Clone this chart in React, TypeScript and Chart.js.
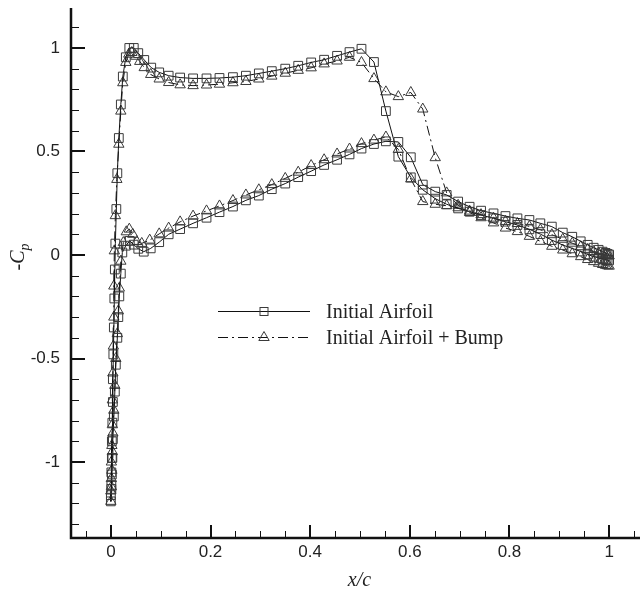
import React, { useEffect, useRef } from "react";
import { Chart, registerables } from "chart.js";

Chart.register(...registerables);

// ---------- data ----------
// chord stations shared by both surfaces from x/c = 0.097 to the trailing edge
const xMid = [
  0.097, 0.116, 0.139, 0.165, 0.192, 0.218, 0.245, 0.271, 0.297, 0.323,
  0.35, 0.376, 0.402, 0.428, 0.454, 0.479, 0.503, 0.528, 0.552, 0.577,
  0.602, 0.626, 0.651, 0.674, 0.697, 0.72, 0.743, 0.768, 0.792, 0.816,
  0.84, 0.862, 0.885, 0.907, 0.926, 0.943, 0.957, 0.969, 0.979, 0.987,
  0.993, 0.997, 1.0,
];

// Initial Airfoil – upper surface (leading edge -> trailing edge)
const s1UpperLeX = [0, 0, 0.001, 0.001, 0.002, 0.002, 0.003, 0.004, 0.004, 0.005, 0.006, 0.007, 0.008, 0.009, 0.011, 0.013, 0.016, 0.02, 0.024, 0.03, 0.037, 0.046, 0.055, 0.067, 0.081];
const s1UpperLeY = [-1.19, -1.16, -1.11, -1.05, -0.98, -0.9, -0.81, -0.71, -0.6, -0.48, -0.35, -0.21, -0.07, 0.055, 0.222, 0.395, 0.565, 0.727, 0.862, 0.955, 1.0, 1.0, 0.975, 0.942, 0.905];
const s1UpperMidY = [
  0.882, 0.866, 0.857, 0.853, 0.853, 0.855, 0.859, 0.866, 0.877, 0.888,
  0.9, 0.914, 0.93, 0.943, 0.962, 0.98, 0.996, 0.932, 0.695, 0.475,
  0.375, 0.315, 0.272, 0.245, 0.225, 0.209, 0.193, 0.177, 0.161, 0.145,
  0.124, 0.101, 0.072, 0.048, 0.032, 0.017, 0.003, -0.008, -0.014, -0.019,
  -0.022, -0.024, -0.026,
];

// Initial Airfoil – lower surface (leading edge -> trailing edge)
const s1LowerLeX = [0, 0.001, 0.002, 0.003, 0.004, 0.006, 0.008, 0.01, 0.013, 0.015, 0.017, 0.02, 0.023, 0.03, 0.038, 0.046, 0.055, 0.066, 0.08];
const s1LowerLeY = [-1.19, -1.13, -1.06, -0.98, -0.89, -0.78, -0.66, -0.53, -0.4, -0.3, -0.2, -0.09, 0.012, 0.045, 0.068, 0.05, 0.03, 0.016, 0.032];
const s1LowerMidY = [
  0.062, 0.1, 0.125, 0.153, 0.18, 0.207, 0.234, 0.264, 0.287, 0.318,
  0.345, 0.376, 0.405, 0.435, 0.46, 0.486, 0.514, 0.536, 0.549, 0.546,
  0.472, 0.34, 0.306, 0.29, 0.258, 0.233, 0.214, 0.201, 0.188, 0.177,
  0.169, 0.153, 0.137, 0.108, 0.088, 0.066, 0.049, 0.035, 0.025, 0.016,
  0.01, 0.005, 0.002,
];

// Initial Airfoil + Bump – upper surface
const s2UpperLeX = [0, 0, 0.001, 0.001, 0.002, 0.003, 0.003, 0.004, 0.005, 0.006, 0.006, 0.007, 0.009, 0.012, 0.016, 0.02, 0.024, 0.03, 0.036, 0.042, 0.05, 0.058, 0.067, 0.08];
const s2UpperLeY = [-1.19, -1.14, -1.08, -1.0, -0.92, -0.82, -0.7, -0.57, -0.44, -0.3, -0.15, 0.02, 0.19, 0.365, 0.535, 0.695, 0.832, 0.93, 0.97, 0.978, 0.96, 0.935, 0.905, 0.872];
const s2UpperMidY = [
  0.85, 0.833, 0.822, 0.818, 0.821, 0.825, 0.832, 0.838, 0.85, 0.864,
  0.878, 0.892, 0.904, 0.923, 0.937, 0.955, 0.93, 0.852, 0.788, 0.765,
  0.785, 0.705, 0.47, 0.3, 0.24, 0.205, 0.18, 0.155, 0.13, 0.113,
  0.09, 0.066, 0.042, 0.024, 0.006, -0.008, -0.022, -0.032, -0.04, -0.046,
  -0.05, -0.052, -0.054,
];

// Initial Airfoil + Bump – lower surface
const s2LowerLeX = [0, 0.001, 0.002, 0.003, 0.004, 0.006, 0.008, 0.01, 0.013, 0.015, 0.017, 0.02, 0.025, 0.031, 0.037, 0.044, 0.052, 0.062, 0.078];
const s2LowerLeY = [-1.19, -1.12, -1.04, -0.95, -0.86, -0.75, -0.63, -0.5, -0.38, -0.27, -0.16, -0.03, 0.06, 0.112, 0.125, 0.1, 0.065, 0.056, 0.072];
const s2LowerMidY = [
  0.102, 0.13, 0.16, 0.188, 0.213, 0.237, 0.263, 0.29, 0.315, 0.34,
  0.37, 0.4, 0.432, 0.46, 0.488, 0.512, 0.538, 0.555, 0.57, 0.51,
  0.367, 0.258, 0.245, 0.238, 0.228, 0.212, 0.195, 0.178, 0.162, 0.152,
  0.138, 0.122, 0.098, 0.076, 0.057, 0.04, 0.027, 0.017, 0.009, 0.004,
  0.0, -0.002, -0.004,
];

const seriesNames = ["Initial Airfoil", "Initial Airfoil + Bump"];

// axis ticks
const xMajorTicks = [0, 0.2, 0.4, 0.6, 0.8, 1];
const xTickLabels = ["0", "0.2", "0.4", "0.6", "0.8", "1"];
const xMinorTicks = [-0.05, 0.05, 0.1, 0.15, 0.25, 0.3, 0.35, 0.45, 0.5, 0.55, 0.65, 0.7, 0.75, 0.85, 0.9, 0.95, 1.05];
const yMajorTicks = [-1, -0.5, 0, 0.5, 1];
const yTickLabels = ["-1", "-0.5", "0", "0.5", "1"];
const yMinorTicks = [-1.3, -1.2, -1.1, -0.9, -0.8, -0.7, -0.6, -0.4, -0.3, -0.2, -0.1, 0.1, 0.2, 0.3, 0.4, 0.6, 0.7, 0.8, 0.9, 1.1];

// ---------- helpers ----------
type Pt = { x: number; y: number };
function surfaceLoop(uX: number[], uY: number[], lX: number[], lY: number[]): Pt[] {
  const upper: Pt[] = uX.map((x, i) => ({ x, y: uY[i] }));
  const lower: Pt[] = lX.map((x, i) => ({ x, y: lY[i] }));
  // trailing edge (upper) -> leading edge -> trailing edge (lower)
  return [...upper.reverse(), ...lower.slice(1)];
}

const SANS = "'Liberation Sans', Arial, sans-serif";
const SERIF = "'Liberation Serif', 'Times New Roman', serif";
const MARKER = "#3a3a3a";
const DASH = [10, 4, 2, 4];

const axesPlugin = {
  id: "axesPlugin",
  afterDatasetsDraw(chart: any) {
    const { ctx, chartArea: a, scales } = chart;
    const xs = scales.x;
    const ys = scales.y;
    ctx.save();
    ctx.strokeStyle = "#111";
    ctx.fillStyle = "#111";
    const seg = (x1: number, y1: number, x2: number, y2: number, w: number) => {
      ctx.lineWidth = w;
      ctx.beginPath();
      ctx.moveTo(x1, y1);
      ctx.lineTo(x2, y2);
      ctx.stroke();
    };
    // ticks (inward)
    xMinorTicks.forEach((v) => {
      const p = Math.round(xs.getPixelForValue(v)) + 0.5;
      seg(p, a.bottom, p, a.bottom - 7, 1);
    });
    xMajorTicks.forEach((v) => {
      const p = Math.round(xs.getPixelForValue(v));
      seg(p, a.bottom, p, a.bottom - 13, 2);
    });
    yMinorTicks.forEach((v) => {
      const p = Math.round(ys.getPixelForValue(v)) + 0.5;
      seg(a.left, p, a.left + 8, p, 1);
    });
    yMajorTicks.forEach((v) => {
      const p = Math.round(ys.getPixelForValue(v));
      seg(a.left, p, a.left + 14, p, 2);
    });
    // axis lines
    ctx.lineWidth = 2.5;
    ctx.beginPath();
    ctx.moveTo(a.left, a.top);
    ctx.lineTo(a.left, a.bottom);
    ctx.lineTo(a.right, a.bottom);
    ctx.stroke();

    // tick labels
    ctx.font = `17px ${SANS}`;
    ctx.fillStyle = "#222";
    ctx.textAlign = "center";
    ctx.textBaseline = "top";
    xMajorTicks.forEach((v, i) => {
      ctx.fillText(xTickLabels[i], xs.getPixelForValue(v), a.bottom + 6);
    });
    ctx.textAlign = "right";
    ctx.textBaseline = "middle";
    yMajorTicks.forEach((v, i) => {
      ctx.fillText(yTickLabels[i], a.left - 11, ys.getPixelForValue(v));
    });

    // axis titles
    ctx.font = `italic 20px ${SERIF}`;
    ctx.textAlign = "center";
    ctx.textBaseline = "alphabetic";
    ctx.fillText("x/c", (a.left + a.right) / 2 + 4, 586);

    ctx.save();
    ctx.translate(24, ys.getPixelForValue(0) + 2);
    ctx.rotate(-Math.PI / 2);
    ctx.textAlign = "left";
    ctx.font = `italic 20px ${SERIF}`;
    const wMain = ctx.measureText("-C").width;
    ctx.font = `italic 14px ${SERIF}`;
    const wSub = ctx.measureText("p").width;
    const startX = -(wMain + wSub) / 2;
    ctx.font = `italic 20px ${SERIF}`;
    ctx.fillText("-C", startX, 0);
    ctx.font = `italic 14px ${SERIF}`;
    ctx.fillText("p", startX + wMain, 5);
    ctx.restore();

    // legend
    const lx1 = 218, lx2 = 310, lxm = 264, tx = 326;
    const rows = [311, 337];
    ctx.strokeStyle = "#111";
    ctx.lineWidth = 1;
    rows.forEach((ry, i) => {
      ctx.setLineDash(i === 1 ? DASH : []);
      ctx.beginPath();
      ctx.moveTo(lx1, ry + 0.5);
      ctx.lineTo(lx2, ry + 0.5);
      ctx.stroke();
    });
    ctx.setLineDash([]);
    ctx.strokeStyle = MARKER;
    ctx.lineWidth = 1;
    ctx.strokeRect(lxm - 4, rows[0] - 4 + 0.5, 8, 8);
    const r = 6;
    ctx.beginPath();
    ctx.moveTo(lxm, rows[1] - r + 0.5);
    ctx.lineTo(lxm + r * 0.866, rows[1] + r * 0.5 + 0.5);
    ctx.lineTo(lxm - r * 0.866, rows[1] + r * 0.5 + 0.5);
    ctx.closePath();
    ctx.stroke();
    ctx.fillStyle = "#222";
    ctx.font = `20px ${SERIF}`;
    ctx.textAlign = "left";
    ctx.textBaseline = "alphabetic";
    rows.forEach((ry, i) => ctx.fillText(seriesNames[i], tx, ry + 7));
    ctx.restore();
  },
};

export default function App() {
  const ref = useRef<HTMLCanvasElement | null>(null);

  useEffect(() => {
    document.body.style.margin = "0";
    const canvas = ref.current;
    if (!canvas) return;
    const chart = new Chart(canvas, {
      type: "scatter",
      data: {
        datasets: [
          {
            label: seriesNames[0],
            data: surfaceLoop(
              [...s1UpperLeX, ...xMid],
              [...s1UpperLeY, ...s1UpperMidY],
              [...s1LowerLeX, ...xMid],
              [...s1LowerLeY, ...s1LowerMidY]
            ),
            showLine: true,
            borderColor: "#111",
            borderWidth: 1,
            pointStyle: "rect",
            pointRadius: 6.2,
            pointBorderWidth: 1,
            pointBorderColor: MARKER,
            pointBackgroundColor: "rgba(0,0,0,0)",
            tension: 0,
            clip: false,
          },
          {
            label: seriesNames[1],
            data: surfaceLoop(
              [...s2UpperLeX, ...xMid],
              [...s2UpperLeY, ...s2UpperMidY],
              [...s2LowerLeX, ...xMid],
              [...s2LowerLeY, ...s2LowerMidY]
            ),
            showLine: true,
            borderColor: "#111",
            borderWidth: 1,
            borderDash: DASH,
            pointStyle: "triangle",
            pointRadius: 6,
            pointBorderWidth: 1,
            pointBorderColor: MARKER,
            pointBackgroundColor: "rgba(0,0,0,0)",
            tension: 0,
            clip: false,
          },
        ],
      },
      options: {
        animation: false,
        responsive: false,
        devicePixelRatio: 1,
        layout: { autoPadding: false, padding: { left: 71, right: 0, top: 8, bottom: 52 } },
        plugins: { legend: { display: false }, tooltip: { enabled: false } },
        scales: {
          x: { type: "linear", min: -0.08, max: 1.062, display: false },
          y: { type: "linear", min: -1.367, max: 1.193, display: false },
        },
      },
      plugins: [axesPlugin],
    });
    return () => chart.destroy();
  }, []);

  return (
    <div style={{ width: 640, height: 590, background: "#fff" }}>
      <canvas ref={ref} width={640} height={590} style={{ display: "block" }} />
    </div>
  );
}
